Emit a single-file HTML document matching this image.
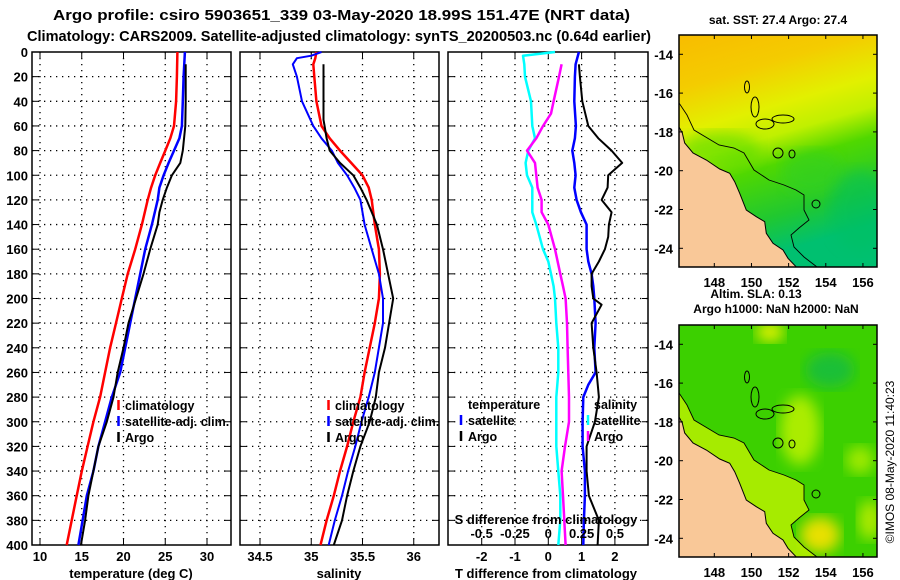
<!DOCTYPE html>
<html><head><meta charset="utf-8">
<style>
html,body{margin:0;padding:0;background:#fff;}
svg{display:block;font-family:"Liberation Sans",sans-serif;font-weight:bold;}
</style></head>
<body>
<svg id="chart" width="900" height="580" viewBox="0 0 900 580" xmlns="http://www.w3.org/2000/svg">
<defs>
<linearGradient id="sstGrad" x1="0" y1="0" x2="0.25" y2="1">
<stop offset="0" stop-color="#f8bc00"/>
<stop offset="0.22" stop-color="#f4cc00"/>
<stop offset="0.4" stop-color="#e2f000"/>
<stop offset="0.52" stop-color="#c0f000"/>
<stop offset="0.64" stop-color="#50d800"/>
<stop offset="0.85" stop-color="#20c830"/>
<stop offset="1" stop-color="#00c070"/>
</linearGradient>
<filter id="blur6"><feGaussianBlur stdDeviation="7"/></filter>
<clipPath id="clipTop"><rect x="679" y="35" width="198" height="232"/></clipPath>
<clipPath id="clipBot"><rect x="679" y="325" width="198" height="232"/></clipPath>
</defs>

<text x="53" y="20" font-size="15" textLength="577" lengthAdjust="spacingAndGlyphs">Argo profile: csiro 5903651_339 03-May-2020 18.99S 151.47E (NRT data)</text>
<text x="27" y="41" font-size="15" textLength="624" lengthAdjust="spacingAndGlyphs">Climatology: CARS2009. Satellite-adjusted climatology: synTS_20200503.nc (0.64d earlier)</text>

<g id="plots"></g>

<!-- top map -->
<g>
<text x="778" y="24" font-size="12" text-anchor="middle">sat. SST: 27.4 Argo: 27.4</text>
<g clip-path="url(#clipTop)">
<rect x="679" y="35" width="198" height="232" fill="url(#sstGrad)"/>
<ellipse cx="812" cy="172" rx="30" ry="22" fill="#30d020" opacity="0.6" filter="url(#blur6)"/>
<ellipse cx="720" cy="150" rx="40" ry="18" fill="#40d800" opacity="0.5" filter="url(#blur6)"/>
<ellipse cx="860" cy="210" rx="30" ry="40" fill="#00c060" opacity="0.5" filter="url(#blur6)"/>
<g id="landTop"></g>
</g>
<rect x="679" y="35" width="198" height="232" fill="none" stroke="#000" stroke-width="1.5"/>
</g>

<!-- bottom map -->
<g>
<text x="756" y="298" font-size="12" text-anchor="middle">Altim. SLA: 0.13</text>
<text x="776" y="313" font-size="12" text-anchor="middle">Argo h1000: NaN h2000: NaN</text>
<g clip-path="url(#clipBot)">
<rect x="679" y="325" width="198" height="232" fill="#3cd000"/>
<ellipse cx="830" cy="370" rx="25" ry="18" fill="#10b850" opacity="0.7" filter="url(#blur6)"/>
<ellipse cx="770" cy="332" rx="14" ry="10" fill="#e0f000" filter="url(#blur6)"/>
<ellipse cx="800" cy="430" rx="20" ry="35" fill="#b8f000" opacity="0.9" filter="url(#blur6)"/>
<ellipse cx="860" cy="460" rx="14" ry="14" fill="#b8f000" opacity="0.8" filter="url(#blur6)"/>
<ellipse cx="820" cy="535" rx="20" ry="18" fill="#e8e000" filter="url(#blur6)"/>
<ellipse cx="870" cy="520" rx="12" ry="20" fill="#c8f000" opacity="0.8" filter="url(#blur6)"/>
<g id="shelfBot"></g>
<g id="landBot"></g>
</g>
<rect x="679" y="325" width="198" height="232" fill="none" stroke="#000" stroke-width="1.5"/>
</g>

<text transform="translate(894,462) rotate(-90)" font-size="12" font-weight="normal" text-anchor="middle">©IMOS 08-May-2020 11:40:23</text>

<script>
// ---------- data ----------
const depthTicks = [0,20,40,60,80,100,120,140,160,180,200,220,240,260,280,300,320,340,360,380,400];
const tempTicks = [10,15,20,25,30];
const salTicks = [34.5,35,35.5,36];
const tdiffTicks = [-2,-1,0,1,2];
const sdiffTicks = [-0.5,-0.25,0,0.25,0.5];
const sdiffLabels = ["-0.5","-0.25","0","0.25","0.5"];

const climTDepth = [0,20,40,60,70,80,90,100,110,120,140,160,180,200,220,240,260,280,300,320,340,360,380,400];
const climT = [26.45,26.4,26.3,26.05,25.6,25.0,24.4,23.8,23.3,22.9,22.2,21.4,20.5,19.8,19.1,18.4,17.8,17.2,16.4,15.7,15.0,14.4,13.8,13.2];
const satT = [27.35,27.2,27.1,27.0,26.7,26.05,25.4,24.8,24.3,24.1,23.4,22.6,22.0,21.4,20.8,20.2,19.6,18.6,17.8,17.0,16.4,15.6,15.1,14.6];
const argoTDepth = [10,20,40,60,80,90,100,110,120,130,140,160,180,200,220,240,260,280,300,320,340,360,380,400];
const argoT = [27.45,27.45,27.45,27.4,27.1,26.8,25.8,25.2,24.7,24.3,24.1,23.2,22.4,21.5,20.6,20.0,19.3,18.8,18.0,17.0,16.4,15.8,15.4,14.9];

const climSDepth = [0,5,10,20,40,60,70,80,90,100,110,120,140,160,180,200,220,240,260,280,300,320,340,360,380,400];
const climS = [35.05,35.04,35.02,35.03,35.05,35.1,35.18,35.28,35.39,35.5,35.56,35.59,35.62,35.66,35.67,35.66,35.62,35.57,35.52,35.48,35.41,35.35,35.28,35.22,35.15,35.09];
const satSDepth = [0,3,5,10,20,40,60,70,80,90,100,110,120,140,160,180,200,220,240,260,280,300,320,340,360,380,400];
const satS = [35.1,35.0,34.86,34.82,34.86,34.91,35.02,35.1,35.2,35.26,35.35,35.42,35.48,35.52,35.59,35.66,35.7,35.7,35.66,35.62,35.56,35.49,35.43,35.36,35.3,35.23,35.17];
const argoSDepth = [10,20,40,55,60,70,80,90,100,110,120,140,160,180,200,220,240,260,280,300,320,340,360,380,400];
const argoS = [35.12,35.12,35.12,35.12,35.13,35.15,35.18,35.28,35.41,35.48,35.54,35.64,35.7,35.75,35.8,35.76,35.72,35.66,35.63,35.57,35.48,35.41,35.35,35.3,35.22];

const satDTDepth = [0,10,20,40,60,70,80,90,100,110,120,130,140,160,170,180,190,200,220,240,260,270,280,300,320,340,360,380,400];
const satDT = [0.92,0.82,0.8,0.78,0.83,0.8,0.72,0.78,0.82,0.78,0.85,0.98,1.15,1.15,1.2,1.3,1.35,1.38,1.42,1.38,1.42,1.2,1.05,1.03,1.03,1.1,1.1,1.07,1.05];
const argoDTDepth = [10,20,40,60,70,80,90,100,110,120,130,140,150,160,170,180,190,200,205,220,240,260,280,300,320,340,360,380,400];
const argoDT = [0.92,0.95,1.02,1.2,1.5,1.9,2.22,1.8,1.78,1.6,1.9,1.82,1.8,1.7,1.52,1.3,1.3,1.35,1.6,1.3,1.35,1.45,1.52,1.4,1.15,1.15,1.22,1.52,1.48];
const satDSDepth = [0,3,10,20,40,60,70,80,90,100,110,130,140,160,170,180,190,200,220,240,260,280,300,320,340,360,380,400];
const satDS = [0.05,-0.19,-0.18,-0.175,-0.13,-0.12,-0.1,-0.15,-0.17,-0.16,-0.12,-0.12,-0.09,-0.04,0,0.02,0.04,0.05,0.06,0.075,0.075,0.06,0.06,0.06,0.075,0.09,0.09,0.075];
const argoDSDepth = [10,20,40,50,60,70,80,90,100,110,120,130,140,160,180,190,200,220,240,260,280,300,320,340,360,380,400];
const argoDS = [0.1,0.08,0.04,0.02,-0.04,-0.09,-0.16,-0.1,-0.09,-0.08,-0.05,-0.05,0,0.05,0.09,0.11,0.13,0.14,0.145,0.15,0.155,0.155,0.125,0.1,0.11,0.12,0.13];

// ---------- scales ----------
const NS = "http://www.w3.org/2000/svg";
const Y0 = 52, Y1 = 545;
function yD(d){ return Y0 + d*(Y1-Y0)/400; }
function xT(t){ return 40 + (t-10)*8.35; }
function xS(s){ return 260 + (s-34.5)*102.5; }
function xDT(v){ return 548.3 + v*33.3; }
function xDS(v){ return 548.3 + v*133.3; }

const root = document.getElementById('plots');
function mk(tag, attrs, parent){
  const e = document.createElementNS(NS, tag);
  for (const k in attrs) e.setAttribute(k, attrs[k]);
  (parent||root).appendChild(e);
  return e;
}

function panel(name, x0, x1, xs, ticks, labels){
  const g = mk('g', {});
  
  
  depthTicks.forEach(d => {
    if (d>0 && d<400) mk('line', {x1:x0, x2:x1, y1:yD(d), y2:yD(d), stroke:'#000', 'stroke-width':1.3, 'stroke-dasharray':'1.3,4.7'}, g);
    mk('line', {x1:x0, x2:x0+6, y1:yD(d), y2:yD(d), stroke:'#000', 'stroke-width':1}, g);
    mk('line', {x1:x1-6, x2:x1, y1:yD(d), y2:yD(d), stroke:'#000', 'stroke-width':1}, g);
  });
  ticks.forEach((t,i) => {
    const x = xs(t);
    mk('line', {x1:x, x2:x, y1:Y0, y2:Y1, stroke:'#000', 'stroke-width':1.3, 'stroke-dasharray':'1.3,4.7'}, g);
    mk('line', {x1:x, x2:x, y1:Y1-6, y2:Y1, stroke:'#000', 'stroke-width':1}, g);
    mk('line', {x1:x, x2:x, y1:Y0, y2:Y0+6, stroke:'#000', 'stroke-width':1}, g);
    const tx = mk('text', {x:x, y:561, 'font-size':13, 'text-anchor':'middle'}, g);
    
    
    tx.textContent = labels[i];
  });
  mk('rect', {x:x0, y:Y0, width:x1-x0, height:Y1-Y0, fill:'none', stroke:'#000', 'stroke-width':1.5}, g);
  return g;
}

function series(name, depths, vals, xs, color, w){
  const pts = depths.map((d,i) => xs(vals[i]).toFixed(1)+','+yD(d).toFixed(1)).join(' ');
  const p = mk('polyline', {points:pts, fill:'none', stroke:color, 'stroke-width':w, 'stroke-linejoin':'round'});
  
  
}

function label(name, x, y, txt, size, anchor){
  const t = mk('text', {x:x, y:y, 'font-size':size, 'text-anchor':anchor||'start'});
  
  
  t.textContent = txt;
}
function legendMark(name, x, y, color){
  const l = mk('line', {x1:x, x2:x, y1:y-10, y2:y, stroke:color, 'stroke-width':2.5});
  
  
}

panel('temperature-panel', 32, 231, xT, tempTicks, tempTicks.map(String));
panel('salinity-panel', 240, 439, xS, salTicks, salTicks.map(String));
panel('difference-panel', 448, 648, xDT, tdiffTicks, tdiffTicks.map(String));

depthTicks.forEach(d => {
  const t = mk('text', {x:28, y:yD(d)+5, 'font-size':13, 'text-anchor':'end'});
  
  
  t.textContent = d;
});

series('temp-climatology-line', climTDepth, climT, xT, '#ff0000', 2.5);
series('temp-satellite-line', climTDepth, satT, xT, '#0000ff', 2.5);
series('temp-argo-line', argoTDepth, argoT, xT, '#000', 2);
series('sal-climatology-line', climSDepth, climS, xS, '#ff0000', 2.5);
series('sal-satellite-line', satSDepth, satS, xS, '#0000ff', 2);
series('sal-argo-line', argoSDepth, argoS, xS, '#000', 2);
series('sdiff-satellite-line', satDSDepth, satDS, xDS, '#00ffff', 2.5);
series('sdiff-argo-line', argoDSDepth, argoDS, xDS, '#ff00ff', 2.5);
series('tdiff-satellite-line', satDTDepth, satDT, xDT, '#0000ff', 2.5);
series('tdiff-argo-line', argoDTDepth, argoDT, xDT, '#000', 2);

label('temperature-axis-title', 131, 578, 'temperature (deg C)', 13, 'middle');
label('salinity-axis-title', 339, 578, 'salinity', 13, 'middle');
label('tdiff-axis-title', 546, 578, 'T difference from climatology', 13, 'middle');
label('sdiff-axis-title', 546, 524, 'S difference from climatology', 13, 'middle');
sdiffTicks.forEach((v,i) => label('sdiff-tick-label', xDS(v), 538, sdiffLabels[i], 13, 'middle'));

[['climatology','#ff0000'],['satellite-adj. clim.','#0000ff'],['Argo','#000']].forEach((e,i) => {
  const y = 410 + i*16;
  legendMark('temp-legend-mark', 118.5, y, e[1]);
  label('temp-legend-label', 125, y, e[0], 12.5);
  legendMark('sal-legend-mark', 328.5, y, e[1]);
  label('sal-legend-label', 335, y, e[0], 12.5);
});
label('tdiff-legend-heading', 468, 409, 'temperature', 12.5);
legendMark('tdiff-legend-mark', 461, 425, '#0000ff');
label('tdiff-legend-label', 468, 425, 'satellite', 12.5);
legendMark('tdiff-legend-mark', 461, 441, '#000');
label('tdiff-legend-label', 468, 441, 'Argo', 12.5);
label('sdiff-legend-heading', 594, 409, 'salinity', 12.5);
legendMark('sdiff-legend-mark', 588, 425, '#00ffff');
label('sdiff-legend-label', 594, 425, 'satellite', 12.5);
legendMark('sdiff-legend-mark', 588, 441, '#ff00ff');
label('sdiff-legend-label', 594, 441, 'Argo', 12.5);

// ---------- maps ----------
const mapLons = [148,150,152,154,156];
const mapLats = [-14,-16,-18,-20,-22,-24];
const coast = [[0,92],[3.3,98],[5.7,108],[14,118],[27.3,125],[40.7,134],[50.7,138.3],[55.7,146.7],[60.7,158.3],[67.3,175],[77.3,181.7],[85.7,186.7],[87.3,198.3],[94,208.3],[104,215],[109,223.3],[117.3,232]];
const shelf = [[0,68],[8,80],[15,95],[40,110],[55,113],[65,118],[75,135],[90,145],[105,150],[117,155],[125,160],[125,175],[130,185],[120,193],[112,200],[115,212],[125,222],[138,232]];
function lonX(lon){ return 679 + (lon-146.1)*18.58; }
function latY(lat, top){ return top + 19.3 + (-14-lat)*19.4; }

function drawMap(top, landId, shelfFill){
  const L = document.getElementById(landId);
  const pts = (arr) => arr.map(p => (679+p[0]).toFixed(1)+','+(top+p[1]).toFixed(1)).join(' ');
  if (shelfFill){
    const s = mk('polygon', {points: pts(shelf)+' '+pts(coast.slice().reverse()), fill:shelfFill, opacity:0.85}, document.getElementById('shelfBot'));
    
    
  }
  const land = mk('polygon', {points: pts(coast)+' '+(679)+','+(top+232), fill:'#f9c898', stroke:'#000', 'stroke-width':1}, L);
  
  
  const c = mk('polyline', {points: pts(shelf), fill:'none', stroke:'#000', 'stroke-width':0.9}, L);
  
  
  [[68,52,2.5,6],[76,72,4,10],[86,89,9,5],[104,84,11,4],[99,118,5,5],[113,119,3,4],[137,169,4,4]].forEach(r => {
    const e = mk('ellipse', {cx:679+r[0], cy:top+r[1], rx:r[2], ry:r[3], fill:'none', stroke:'#000', 'stroke-width':1}, L);
    
    
  });
  const svg = document.getElementById('chart');
  mapLons.forEach(lon => {
    const x = lonX(lon);
    mk('line', {x1:x, x2:x, y1:top, y2:top+4, stroke:'#000'}, svg);
    mk('line', {x1:x, x2:x, y1:top+228, y2:top+232, stroke:'#000'}, svg);
    const t = mk('text', {x:x, y:top+252, 'font-size':13, 'text-anchor':'middle'}, svg);
    
    
    t.textContent = lon;
  });
  mapLats.forEach(lat => {
    const y = latY(lat, top);
    mk('line', {x1:679, x2:683, y1:y, y2:y, stroke:'#000'}, svg);
    mk('line', {x1:873, x2:877, y1:y, y2:y, stroke:'#000'}, svg);
    const t = mk('text', {x:673, y:y+5, 'font-size':13, 'text-anchor':'end'}, svg);
    
    
    t.textContent = lat;
  });
}
drawMap(35, 'landTop', null);
drawMap(325, 'landBot', '#b8f000');
</script>
</svg>
</body></html>
